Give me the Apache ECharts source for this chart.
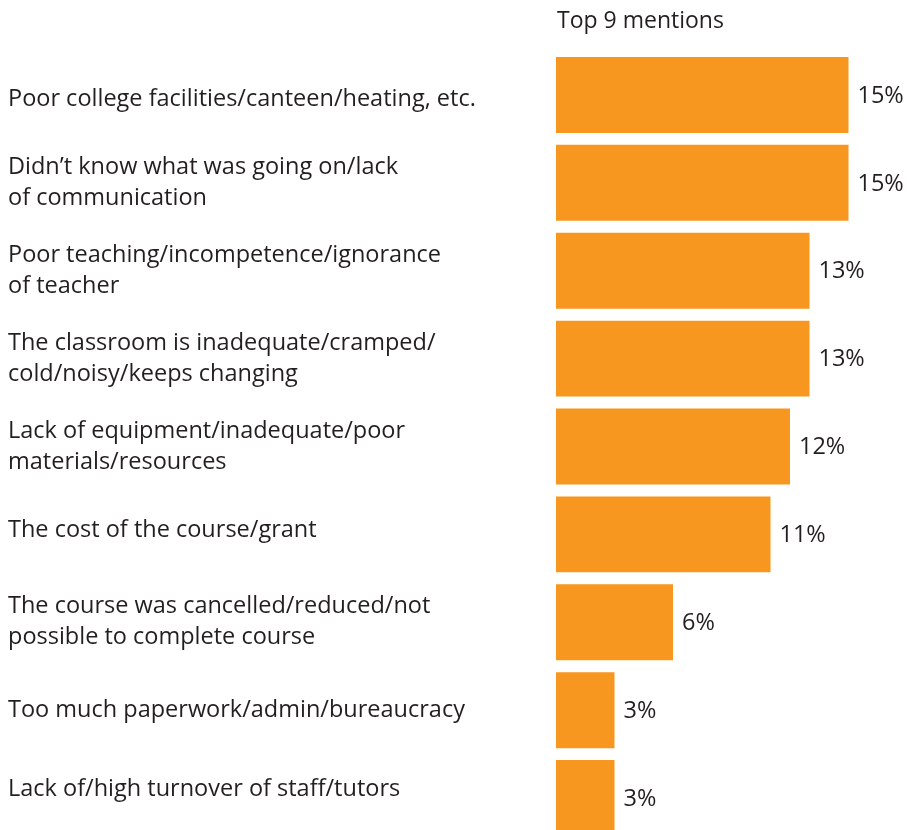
<!DOCTYPE html>
<html>
<head>
<meta charset="utf-8">
<script src="https://cdn.jsdelivr.net/npm/echarts@6/dist/echarts.min.js"></script>
<style>
  html, body { margin: 0; padding: 0; background: #ffffff; overflow: hidden; }
  /* the canvas is a little taller than the window so the last row is cut off at the bottom */
  #chart { width: 907px; height: 860px; }
</style>
</head>
<body>
<div id="chart"></div>
<script>
// Reasons given, top to bottom
const categories = [
  'Poor college facilities/canteen/heating, etc.',
  'Didn\u2019t know what was going on/lack\nof communication',
  'Poor teaching/incompetence/ignorance\nof teacher',
  'The classroom is inadequate/cramped/\ncold/noisy/keeps changing',
  'Lack of equipment/inadequate/poor\nmaterials/resources',
  'The cost of the course/grant',
  'The course was cancelled/reduced/not\npossible to complete course',
  'Too much paperwork/admin/bureaucracy',
  'Lack of/high turnover of staff/tutors'
];
// Share of mentions, percent
const values = [15, 15, 13, 13, 12, 11, 6, 3, 3];
const headerText = 'Top 9 mentions';

const FONT = '"Open Sans", "Noto Sans", sans-serif';
const TEXT = '#231f20';
const ORANGE = '#f7971f';

const baseText = { fontFamily: FONT, fontSize: 23.5, lineHeight: 31, color: TEXT };

// single-line row labels sitting a little off the bar centre (rich styles)
const rich = {
  dn: Object.assign({}, baseText, { padding: [8, 0, 0, 0] }),
  up: Object.assign({}, baseText, { padding: [0, 0, 8, 0] }),
  up2: Object.assign({}, baseText, { padding: [0, 0, 18, 0] })
};
const richKey = { 0: 'dn', 5: 'up', 8: 'up2' };

const chart = echarts.init(document.getElementById('chart'), null, { renderer: 'canvas' });
chart.setOption({
  animation: false,
  backgroundColor: '#ffffff',
  title: {
    text: headerText,
    left: 557,
    top: 10,
    padding: 0,
    textStyle: { fontFamily: FONT, fontSize: 23, fontWeight: 'normal', color: TEXT }
  },
  grid: {
    left: 556, top: 51, width: 312, height: 791,
    containLabel: false, outerBoundsMode: 'none'
  },
  xAxis: {
    type: 'value', min: 0, max: 16,
    show: false
  },
  yAxis: {
    type: 'category',
    data: categories,
    inverse: true,
    axisLine: { show: false },
    axisTick: { show: false },
    splitLine: { show: false },
    axisLabel: Object.assign({
      margin: 548,
      align: 'left',
      rich: rich,
      formatter: (v, i) => richKey[i] ? '{' + richKey[i] + '|' + v + '}' : v
    }, baseText)
  },
  series: [{
    type: 'bar',
    data: values,
    barCategoryGap: '13.6%',
    itemStyle: { color: ORANGE },
    label: {
      show: true,
      position: 'right',
      distance: 9,
      offset: [0, 1],
      formatter: p => p.value + '%',
      fontFamily: FONT,
      fontSize: 23.5,
      color: TEXT
    }
  }]
});
</script>
</body>
</html>
